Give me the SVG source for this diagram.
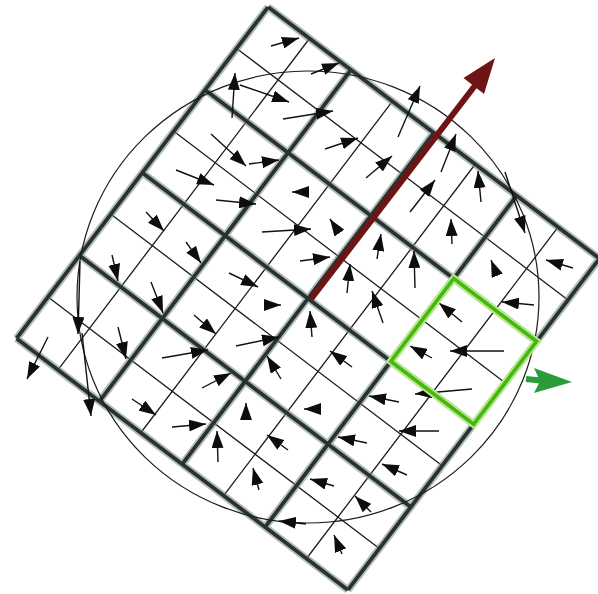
<svg xmlns="http://www.w3.org/2000/svg" width="598" height="594" viewBox="0 0 598 594">
<defs>
<style>
.thin{stroke:#1c1c1c;stroke-width:1.3;fill:none}
.halo{stroke:#7f8e8b;stroke-width:7.5;fill:none;opacity:0.6}
.thick{stroke:#26332f;stroke-width:3.8;fill:none}
.arr{stroke:#111;stroke-width:1.4;fill:none;marker-end:url(#head)}
</style>
<marker id="head" viewBox="0 0 17 12" refX="17" refY="6" markerWidth="17" markerHeight="12" markerUnits="userSpaceOnUse" orient="auto">
<path d="M0,0 L17,6 L0,12 z" fill="#0d0d0d"/>
</marker>
</defs>
<rect width="598" height="594" fill="#fff"/>
<g id="grid" transform="translate(308,298.5) rotate(37.2)">
<path class="thin" d="M-156,-208V208M-52,-208V208M52,-208V208M156,-208V208M-208,-156H208M-208,-52H208M-208,52H208M-208,156H208"/>
<path class="halo" d="M-208,-208V208M-104,-208V208M0,-208V208M104,-208V208M208,-208V208M-208,-208H208M-208,-104H208M-208,0H208M-208,104H208M-208,208H208"/>
<path class="thick" d="M-208,-208V208M-104,-208V208M0,-208V208M104,-208V208M208,-208V208M-208,-208H208M-208,-104H208M-208,0H208M-208,104H208M-208,208H208"/>
</g>
<ellipse id="window" cx="308" cy="297" rx="231" ry="226" fill="none" stroke="#1c1c1c" stroke-width="1.2"/>
<g id="arrows">
<line class="arr" x1="271" y1="46" x2="299" y2="38"/>
<line class="arr" x1="232" y1="118" x2="235" y2="73"/>
<line class="arr" x1="240" y1="85" x2="289" y2="102"/>
<line class="arr" x1="311" y1="74" x2="339" y2="63"/>
<line class="arr" x1="283" y1="119" x2="333" y2="111"/>
<line class="arr" x1="325" y1="149" x2="358" y2="138"/>
<line class="arr" x1="398" y1="137" x2="420" y2="86"/>
<line class="arr" x1="441" y1="172" x2="456" y2="134"/>
<line class="arr" x1="366" y1="178" x2="392" y2="156"/>
<line class="arr" x1="410" y1="212" x2="435" y2="180"/>
<line class="arr" x1="481" y1="202" x2="478" y2="171"/>
<line class="arr" x1="211" y1="134" x2="246" y2="166"/>
<line class="arr" x1="249" y1="164" x2="279" y2="160"/>
<line class="arr" x1="176" y1="170" x2="214" y2="185"/>
<line class="arr" x1="216" y1="200" x2="256" y2="204"/>
<line class="arr" x1="297" y1="192" x2="292" y2="192"/>
<line class="arr" x1="334" y1="225" x2="330" y2="219"/>
<line class="arr" x1="262" y1="232" x2="311" y2="229"/>
<line class="arr" x1="146" y1="212" x2="164" y2="231"/>
<line class="arr" x1="186" y1="242" x2="201" y2="263"/>
<line class="arr" x1="112" y1="255" x2="118" y2="281"/>
<line class="arr" x1="151" y1="282" x2="163" y2="313"/>
<line class="arr" x1="229" y1="273" x2="258" y2="287"/>
<line class="arr" x1="300" y1="261" x2="330" y2="257"/>
<line class="arr" x1="347" y1="293" x2="350" y2="264"/>
<line class="arr" x1="377" y1="259" x2="381" y2="234"/>
<line class="arr" x1="415" y1="288" x2="414" y2="251"/>
<line class="arr" x1="452" y1="244" x2="451" y2="219"/>
<line class="arr" x1="493" y1="265" x2="491" y2="260"/>
<line class="arr" x1="505" y1="172" x2="525" y2="233"/>
<line class="arr" x1="573" y1="268" x2="546" y2="260"/>
<line class="arr" x1="80" y1="262" x2="78" y2="334"/>
<line class="arr" x1="82" y1="333" x2="91" y2="416"/>
<line class="arr" x1="48" y1="337" x2="27" y2="379"/>
<line class="arr" x1="118" y1="327" x2="126" y2="359"/>
<line class="arr" x1="194" y1="315" x2="216" y2="334"/>
<line class="arr" x1="236" y1="346" x2="279" y2="337"/>
<line class="arr" x1="281" y1="379" x2="267" y2="356"/>
<line class="arr" x1="276" y1="305" x2="281" y2="305"/>
<line class="arr" x1="162" y1="358" x2="208" y2="350"/>
<line class="arr" x1="202" y1="388" x2="231" y2="373"/>
<line class="arr" x1="132" y1="399" x2="156" y2="415"/>
<line class="arr" x1="246" y1="409" x2="246" y2="403"/>
<line class="arr" x1="172" y1="427" x2="206" y2="424"/>
<line class="arr" x1="218" y1="462" x2="217" y2="431"/>
<line class="arr" x1="288" y1="450" x2="267" y2="435"/>
<line class="arr" x1="259" y1="490" x2="253" y2="468"/>
<line class="arr" x1="306" y1="524" x2="279" y2="521"/>
<line class="arr" x1="312" y1="337" x2="310" y2="311"/>
<line class="arr" x1="383" y1="323" x2="372" y2="291"/>
<line class="arr" x1="462" y1="322" x2="439" y2="303"/>
<line class="arr" x1="534" y1="305" x2="502" y2="302"/>
<line class="arr" x1="352" y1="367" x2="330" y2="351"/>
<line class="arr" x1="432" y1="358" x2="410" y2="346"/>
<line class="arr" x1="504" y1="351" x2="450" y2="351"/>
<line class="arr" x1="310" y1="409" x2="304" y2="409"/>
<line class="arr" x1="399" y1="402" x2="369" y2="396"/>
<line class="arr" x1="472" y1="389" x2="415" y2="394"/>
<line class="arr" x1="367" y1="443" x2="338" y2="437"/>
<line class="arr" x1="439" y1="431" x2="399" y2="431"/>
<line class="arr" x1="407" y1="475" x2="382" y2="464"/>
<line class="arr" x1="334" y1="486" x2="310" y2="479"/>
<line class="arr" x1="371" y1="512" x2="355" y2="496"/>
<line class="arr" x1="342" y1="554" x2="334" y2="535"/>
</g>
<g id="green-box" transform="translate(308,298.5) rotate(37.2)">
<rect x="104" y="-104" width="104" height="104" fill="none" stroke="#b8ea8c" stroke-width="7.5"/>
<rect x="104" y="-104" width="104" height="104" fill="none" stroke="#47b512" stroke-width="3.6"/>
</g>
<g id="orientation-arrow">
<line x1="311" y1="299" x2="477" y2="83" stroke="#6e1414" stroke-width="6"/>
<polygon points="495,58 484,94 463.5,78" fill="#6e1414"/>
</g>
<g id="x-arrow">
<line x1="526" y1="379" x2="541" y2="380.5" stroke="#2a9d3a" stroke-width="6"/>
<polygon points="534,368 572,382 534,393 540,381" fill="#2a9d3a"/>
</g>
</svg>
